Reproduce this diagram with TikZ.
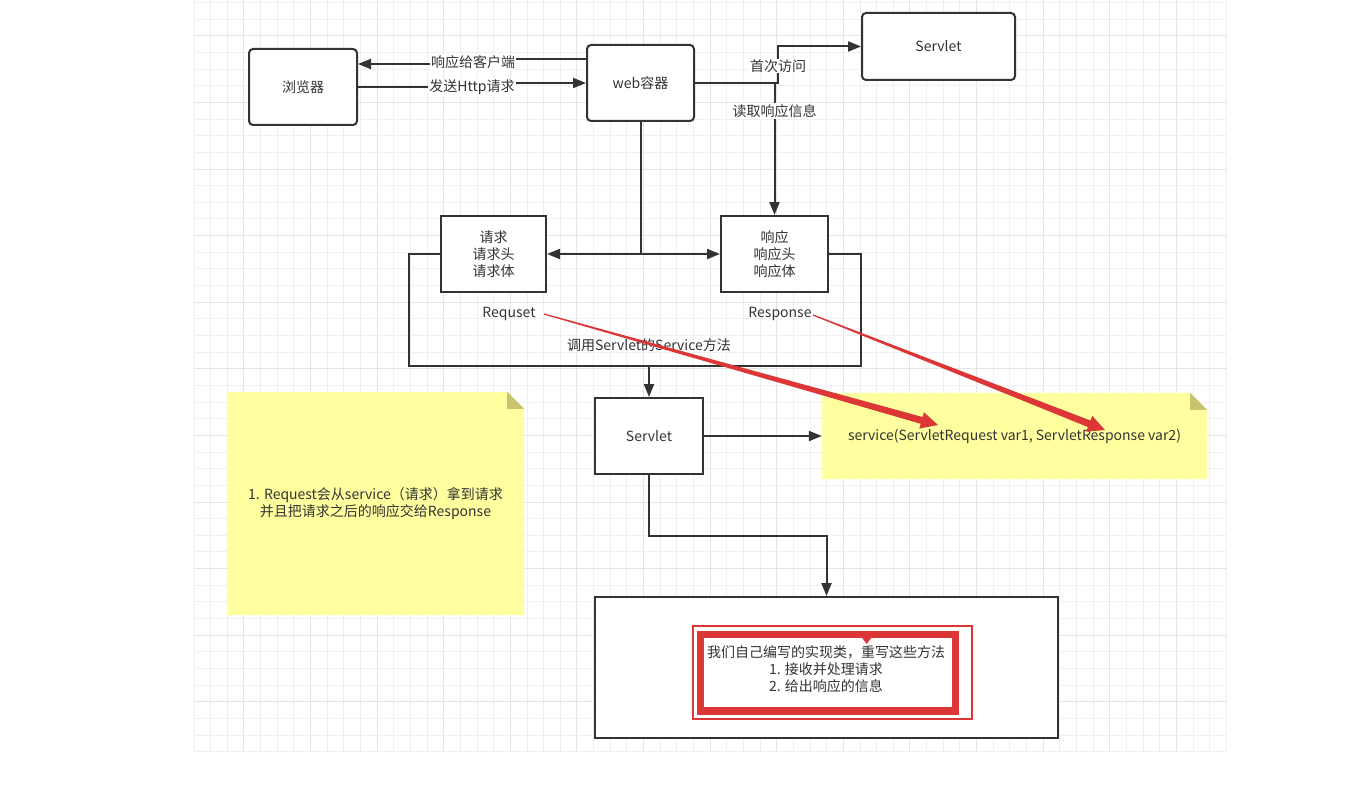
\documentclass[tikz,border=0pt]{standalone}
\usepackage{fontspec}
\setmainfont{Noto Sans CJK SC}
\usetikzlibrary{arrows.meta,calc}
\definecolor{ink}{HTML}{333333}
\definecolor{gridc}{HTML}{F0F0F0}
\definecolor{gridm}{HTML}{E4E4E4}
\definecolor{notey}{RGB}{255,255,160}
\definecolor{notef}{RGB}{200,196,110}
\definecolor{hred}{RGB}{220,54,54}
\pgfdeclarelayer{bg}
\pgfsetlayers{bg,main}
\begin{document}
\begin{tikzpicture}[x=1pt,y=-1pt,
  font=\fontsize{14}{17}\selectfont,
  rbox/.style={draw=ink,line width=2pt,rounded corners=4pt,fill=white,text=ink,align=center,inner sep=0pt},
  sbox/.style={draw=ink,line width=2pt,fill=white,text=ink,align=center,inner sep=0pt},
  conn/.style={draw=ink,line width=2pt,-{Triangle[length=13pt,width=10pt]}},
  plain/.style={draw=ink,line width=2pt},
  lbl/.style={fill=white,text=ink,inner sep=1pt},
  txt/.style={text=ink,align=center,inner sep=0pt}]
\useasboundingbox (0,0) rectangle (1364,789);

% boxes
\node[rbox,minimum width=108pt,minimum height=76pt] (browser) at (303,87) {浏览器};
\node[rbox,minimum width=107pt,minimum height=76pt] (web) at (640.5,83) {web容器};
\node[rbox,minimum width=153pt,minimum height=67pt] (sv1) at (938.5,46.5) {Servlet};
\node[sbox,minimum width=105pt,minimum height=76pt] (req) at (493.5,254) {请求\\请求头\\请求体};
\node[sbox,minimum width=107pt,minimum height=76pt] (resp) at (774.5,254) {响应\\响应头\\响应体};
\node[sbox,minimum width=108pt,minimum height=76pt] (sv2) at (649,436) {Servlet};
\node[sbox,minimum width=463pt,minimum height=141pt] (impl) at (826.5,667.5) {};

% notes (text nodes; shapes on background layer)
\node[txt,minimum width=385pt,minimum height=86pt] (noteR) at (1014.5,436) {service(ServletRequest var1, ServletResponse var2)};
\node[txt,minimum width=297pt,minimum height=223pt] (noteL) at (375.5,503.5) {1. Request会从service（请求）拿到请求\\并且把请求之后的响应交给Response};

\begin{pgfonlayer}{bg}
  \fill[white] (0,0) rectangle (1364,789);
  \foreach \i in {0,...,62}{
    \pgfmathsetmacro\xx{194+\i*16.65}
    \pgfmathtruncatemacro\m{mod(\i,4)}
    \ifnum\m=3
      \draw[gridm,line width=1pt] (\xx,0) -- (\xx,751.75);
    \else
      \draw[gridc,line width=1pt] (\xx,0) -- (\xx,751.75);
    \fi
  }
  \foreach \j in {0,...,45}{
    \pgfmathsetmacro\yy{2.5+\j*16.65}
    \pgfmathtruncatemacro\m{mod(\j,4)}
    \ifnum\m=2
      \draw[gridm,line width=1pt] (194,\yy) -- (1226.3,\yy);
    \else
      \draw[gridc,line width=1pt] (194,\yy) -- (1226.3,\yy);
    \fi
  }
  \foreach \n in {noteR,noteL}{
    \fill[notey] (\n.south west) -- (\n.north west) -- ([xshift=-17pt]\n.north east)
      -- ([yshift=-17pt]\n.north east) -- (\n.south east) -- cycle;
    \fill[notef] ([xshift=-17pt]\n.north east) -- ([yshift=-17pt]\n.north east)
      -- ([xshift=-17pt,yshift=-17pt]\n.north east) -- cycle;
  }
\end{pgfonlayer}

% top connectors
\coordinate (c59) at (0,59);
\coordinate (c64) at (0,64);
\draw[conn] (web.west |- c59) -- (473,59) -- (473,64) -- (browser.east |- c64);
\node[lbl] (l1) at (473,62) {响应给客户端};
\draw[conn] (browser.east) -- (472,87) -- (472,83) -- (web.west);
\node[lbl] (l2) at (472,87) {发送Http请求};

\draw[conn] (web.east) -- (778,83) -- (778,46.5) -- (sv1.west);
\node[lbl] (l3) at (778,66) {首次访问};
\draw[conn] (web.east) -- (774.5,83) -- (resp.north);
\node[lbl] (l4) at (774.5,111) {读取响应信息};

\draw[plain,{Triangle[length=13pt,width=10pt]}-{Triangle[length=13pt,width=10pt]}] (req.east) -- (resp.west);
\draw[plain] (web.south) -- (web.south |- req.east);

% loop to servlet
\draw[plain] (req.west) -- (409,254) -- (409,366) -- (861,366) -- (861,254) -- (resp.east);
\coordinate (lb) at (649,366);
\draw[conn] (lb) -- (sv2.north);
\node[txt] (rq) at (509,314) {Requset};
\node[txt] (rs) at (780,314) {Response};
\node[txt] (call) at (649,345) {调用Servlet的Service方法};

\draw[conn] (sv2.east) -- (noteR.west);
\draw[conn] (sv2.south) -- (649,536) -- (826.5,536) -- (impl.north);

% highlight in bottom box
\node[draw=hred,line width=1.8pt,minimum width=279pt,minimum height=93pt,inner sep=0pt] (hl) at (832.5,672.5) {};
\node[draw=hred,line width=7.5pt,minimum width=255pt,minimum height=76.5pt,inner sep=0pt] (hl2) at (828,672.75) {};
\fill[hred] (861.5,637) -- (872,637) -- (866.7,644) -- cycle;
\node[txt] (impltxt) at (826,669) {我们自己编写的实现类，重写这些方法\\1. 接收并处理请求\\2. 给出响应的信息};

% red tapered arrows
\coordinate (r1s) at (544,314);
\coordinate (r1t) at (938,425);
\coordinate (r1b) at ($(r1t)!17pt!(r1s)$);
\fill[hred] ($(r1s)!0.6pt!90:(r1t)$) -- ($(r1b)!3.5pt!90:(r1t)$) -- ($(r1b)!8.5pt!90:(r1t)$) -- (r1t)
  -- ($(r1b)!8.5pt!-90:(r1t)$) -- ($(r1b)!3.5pt!-90:(r1t)$) -- ($(r1s)!0.6pt!-90:(r1t)$) -- cycle;
\coordinate (r2s) at (813,315);
\coordinate (r2t) at (1105,430);
\coordinate (r2b) at ($(r2t)!17pt!(r2s)$);
\fill[hred] ($(r2s)!0.6pt!90:(r2t)$) -- ($(r2b)!3.5pt!90:(r2t)$) -- ($(r2b)!8.5pt!90:(r2t)$) -- (r2t)
  -- ($(r2b)!8.5pt!-90:(r2t)$) -- ($(r2b)!3.5pt!-90:(r2t)$) -- ($(r2s)!0.6pt!-90:(r2t)$) -- cycle;
\end{tikzpicture}
\end{document}
